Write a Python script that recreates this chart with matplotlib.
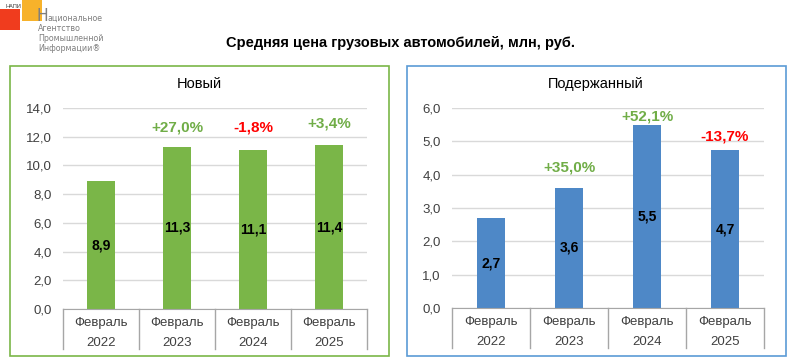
import matplotlib
matplotlib.use("Agg")
import matplotlib.pyplot as plt
from matplotlib.patches import Rectangle
from matplotlib.ticker import FuncFormatter, MultipleLocator

plt.rcParams['font.family'] = ['Liberation Sans', 'DejaVu Sans']

# ---- data ----
months = ["Февраль", "Февраль", "Февраль", "Февраль"]
years = ["2022", "2023", "2024", "2025"]
new_values = [8.9, 11.3, 11.1, 11.4]
new_changes = [None, 27.0, -1.8, 3.4]
used_values = [2.7, 3.6, 5.5, 4.74]
used_changes = [None, 35.0, 52.1, -13.7]

title = "Средняя цена грузовых автомобилей, млн, руб."
panel_titles = ["Новый", "Подержанный"]
logo_lines = ["ациональное", "Агентство", "Промышленной", "Информации®"]

GREEN = "#7AB648"
BLUE = "#4E88C7"
POS = "#70AD47"
NEG = "#FF0000"
TXT = "#404040"

W, H = 799, 364
fig = plt.figure(figsize=(W / 100, H / 100), dpi=100)


def fx(px):
    return px / W


def fy(py):
    return 1 - py / H


def comma(v, _=None):
    return f"{v:.1f}".replace(".", ",")


def pct(v):
    return f"{v:+.1f}%".replace(".", ",")


def draw_panel(ax, values, changes, color, ymax, step, pct_offsets):
    x = list(range(len(values)))
    bars = ax.bar(x, values, width=0.37, color=color, zorder=3)
    ax.set_xlim(-0.5, len(values) - 0.5)
    ax.set_ylim(0, ymax)
    ax.yaxis.set_major_locator(MultipleLocator(step))
    ax.yaxis.set_major_formatter(FuncFormatter(comma))
    ax.grid(axis='y', color='#D9D9D9', linewidth=1, zorder=0)
    for s in ['left', 'right', 'top']:
        ax.spines[s].set_visible(False)
    ax.spines['bottom'].set_color('#A6A6A6')
    ax.spines['bottom'].set_zorder(4)
    ax.tick_params(axis='y', length=0, pad=8, labelsize=9.5, labelcolor=TXT)
    ax.tick_params(axis='x', length=0, pad=6, labelsize=9.5, labelcolor=TXT)
    ax.set_xticks(x)
    ax.set_xticklabels([f"{m}\n{y}" for m, y in zip(months, years)], linespacing=1.9)
    # category table separators
    trans = ax.get_xaxis_transform()
    bh = 40 / (ax.get_position().height * H)
    for b in [i - 0.5 for i in range(len(values) + 1)]:
        ax.plot([b, b], [0, -bh], transform=trans, color='#A6A6A6', lw=1, clip_on=False)
    # value labels
    for b, v in zip(bars, values):
        ax.text(b.get_x() + b.get_width() / 2, v / 2, comma(v), ha='center', va='center',
                fontsize=10, fontweight='bold', color='black', zorder=5)
    # change labels
    for i, (v, c) in enumerate(zip(values, changes)):
        if c is None:
            continue
        ax.annotate(pct(c), (i, v), xytext=(0, pct_offsets[i]), textcoords='offset points',
                    ha='center', va='center', fontsize=11, fontweight='bold',
                    color=POS if c > 0 else NEG, annotation_clip=False, zorder=5)


# panel borders
fig.patches.append(Rectangle((fx(10), fy(356)), fx(379), 290 / H, transform=fig.transFigure,
                             fill=False, edgecolor=GREEN, lw=1.2))
fig.patches.append(Rectangle((fx(407), fy(356)), fx(379), 290 / H, transform=fig.transFigure,
                             fill=False, edgecolor='#5B9BD5', lw=1.2))

ax1 = fig.add_axes([fx(63), fy(309), fx(304), 201 / H])
draw_panel(ax1, new_values, new_changes, GREEN, 14, 2, [0, 14, 16, 16])

ax2 = fig.add_axes([fx(452), fy(308), fx(312), 200 / H])
draw_panel(ax2, used_values, used_changes, BLUE, 6, 1, [0, 15, 6, 10])

fig.text(fx(199), fy(84), panel_titles[0], ha='center', va='center', fontsize=10.5, color='black')
fig.text(fx(596), fy(84), panel_titles[1], ha='center', va='center', fontsize=10.5, color='black')
fig.text(fx(400), fy(43), title, ha='center', va='center', fontsize=10.5, fontweight='bold')

# logo
fig.patches.append(Rectangle((fx(0), fy(30)), fx(20), 21 / H, transform=fig.transFigure,
                             color='#F03C1E', lw=0))
fig.patches.append(Rectangle((fx(22), fy(21)), fx(20), 21 / H, transform=fig.transFigure,
                             color='#F7B22A', lw=0))
fig.text(fx(6), fy(6), "НАПИ", fontsize=4, color='#333333', va='center', ha='left')
LOGO_FONT = dict(family=['DejaVu Sans'], fontstretch='condensed', color='#7F7F7F',
                 va='baseline', ha='left')
fig.text(fx(36), fy(21), "Н", fontsize=12.5, **LOGO_FONT)
fig.text(fx(48), fy(21), logo_lines[0], fontsize=6.3, **LOGO_FONT)
for i, line in enumerate(logo_lines[1:]):
    fig.text(fx(38), fy(31 + 10 * i), line, fontsize=6.3, **LOGO_FONT)

fig.savefig("out.png", dpi=100)
